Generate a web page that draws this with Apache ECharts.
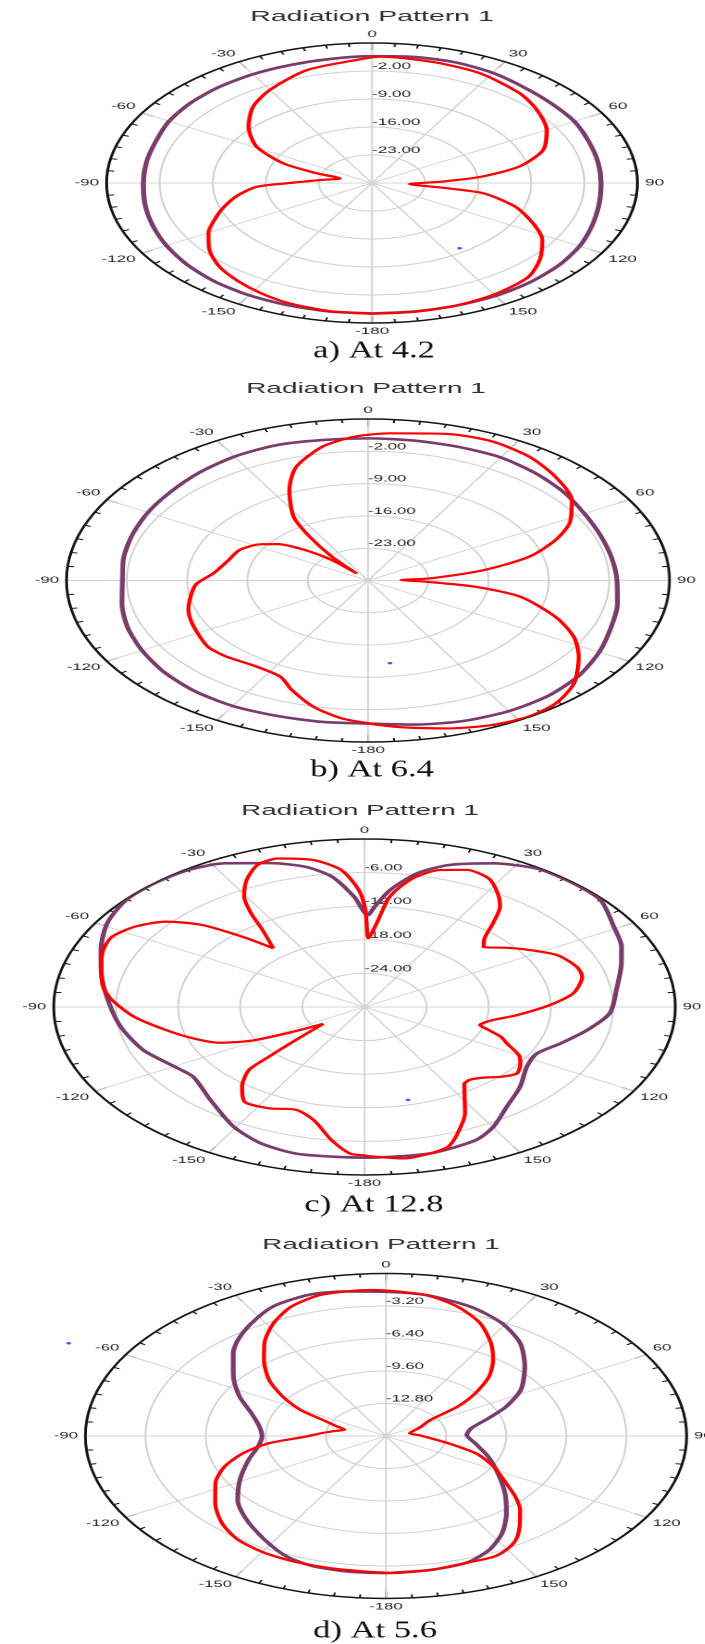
<!DOCTYPE html>
<html>
<head>
<meta charset="utf-8">
<script src="https://cdn.jsdelivr.net/npm/echarts/dist/echarts.min.js"></script>
<style>
html,body{margin:0;padding:0;background:#ffffff;width:705px;height:1644px;overflow:hidden;}
.panel{position:absolute;left:0;transform-origin:0 0;}
</style>
</head>
<body>
<div id="pa" class="panel"></div>
<div id="pb" class="panel"></div>
<div id="pc" class="panel"></div>
<div id="pd" class="panel"></div>
<script>
// ---------------- data (angle in degrees, value in dB) ----------------
const titleText = 'Radiation Pattern 1';
const captions = ['a) At 4.2', 'b) At 6.4', 'c) At 12.8', 'd) At 5.6'];

const angleTicks = [0, 30, 60, 90, 120, 150, 180, 210, 240, 270, 300, 330];
const angleTickLabels = ['0', '30', '60', '90', '120', '150', '-180', '-150', '-120', '-90', '-60', '-30'];

const aRadiusTicks = [-30, -23, -16, -9, -2, 5];
const aRadiusLabels = ['', '-23.00', '-16.00', '-9.00', '-2.00', ''];
const bRadiusTicks = [-30, -23, -16, -9, -2, 5];
const bRadiusLabels = ['', '-23.00', '-16.00', '-9.00', '-2.00', ''];
const cRadiusTicks = [-30, -24, -18, -12, -6, 0];
const cRadiusLabels = ['', '-24.00', '-18.00', '-12.00', '-6.00', ''];
const dRadiusTicks = [-16, -12.8, -9.6, -6.4, -3.2, 0];
const dRadiusLabels = ['', '-12.80', '-9.60', '-6.40', '-3.20', ''];

const aRed = [[-180,2.7],[-170,2.5],[-160,2.0],[-152,1.2],[-144,0.2],[-136,-1.0],[-128,-2.8],[-120,-5.1],[-113,-7.6],[-107,-9.6],[-100,-12.0],[-93.5,-14.8],[-90,-19.2],[-83,-23.5],[-75,-25.6],[-71.6,-22.3],[-67.2,-17.3],[-59.2,-12.3],[-49.2,-8.5],[-39.4,-5.3],[-30,-3.1],[-17,-0.5],[-4,0.8],[2,1.6],[15,1.3],[27.5,0.9],[41,-0.3],[50,-1.6],[60,-3.4],[70,-6.0],[78,-10.1],[84,-15.7],[88,-21.0],[93,-25.0],[97.5,-19.9],[100,-15.0],[107.4,-10.2],[115.4,-6.5],[122.4,-3.4],[131,-0.7],[139,1.3],[150,2.2],[160,2.6],[170,2.7],[180,2.7]];
const aPurple = [[-180,2.6],[-170,2.6],[-160,2.5],[-150,2.4],[-140,2.2],[-130,1.8],[-120,1.3],[-110,0.8],[-100,0.4],[-90,0.15],[-80,0.2],[-70,0.35],[-60,0.9],[-50,1.2],[-40,1.35],[-30,1.4],[-20,1.4],[-10,1.5],[0,1.7],[10,2.0],[20,2.1],[30,1.8],[40,1.2],[50,0.9],[60,0.8],[70,0.4],[80,0.25],[90,0.2],[100,0.4],[110,0.9],[120,1.6],[130,2.1],[140,2.4],[150,2.6],[160,2.6],[170,2.6],[180,2.6]];
const aDot = [[144.7,-10.0]];

const bRed = [[-180,0.9],[-174,0.0],[-167,-1.9],[-159.5,-4.7],[-154,-6.8],[-145,-7.3],[-135,-6.7],[-128,-6.5],[-122,-7.0],[-114,-7.6],[-107,-8.2],[-98,-9.3],[-92,-10.1],[-85,-12.0],[-75,-13.2],[-66,-13.7],[-58,-15.2],[-53,-16.9],[-48,-20.1],[-43.5,-23.9],[-41,-28.0],[-39,-23.3],[-35.5,-18.3],[-32,-13.7],[-25,-8.4],[-18.7,-4.0],[-10.3,-0.5],[-3,1.2],[4.6,2.0],[16.4,3.1],[25.8,3.4],[35,2.7],[44,1.3],[53.6,-0.6],[62,-3.5],[68,-6.5],[74.6,-10.6],[80.4,-16.3],[86.2,-22.7],[88.5,-26.1],[92.2,-23.3],[96.2,-17.5],[101.2,-12.0],[110,-6.8],[117,-3.2],[124,-0.5],[133,2.7],[140.6,4.4],[147.6,4.9],[155,4.5],[163.7,3.4],[172.6,2.1],[178,1.3],[180,0.9]];
const bPurple = [[-180,1.0],[-170,1.1],[-160,1.2],[-150,1.4],[-140,1.3],[-130,0.9],[-120,0.3],[-110,-0.3],[-100,-1.0],[-90,-1.5],[-80,-1.2],[-70,-0.9],[-60,-0.5],[-50,-0.1],[-40,0.5],[-30,1.0],[-20,1.2],[-10,0.9],[0,0.8],[10,0.8],[20,0.8],[30,0.8],[40,0.3],[50,-0.3],[60,-1.0],[70,-1.3],[80,-1.3],[90,-1.1],[100,-0.6],[110,0.0],[120,1.0],[130,2.0],[140,2.6],[150,2.7],[160,2.4],[170,1.7],[180,1.0]];
const bDot = [[171.9,-11.9]];

const cRed = [[-180,-3.5],[-176.9,-3.8],[-172.4,-6.0],[-166.4,-9.2],[-160.2,-10.5],[-153,-9.7],[-145.6,-9.5],[-140.3,-11.5],[-135.2,-14.2],[-133.9,-17.2],[-131.7,-21.1],[-127.1,-25.0],[-122.1,-21.2],[-118.8,-17.5],[-114.5,-14.6],[-108.6,-12.5],[-102.1,-10.4],[-94.5,-7.7],[-87.1,-5.6],[-81.8,-4.5],[-74.2,-3.6],[-68,-2.8],[-62.7,-2.6],[-57.1,-3.6],[-51.5,-5.5],[-47,-8.5],[-43.2,-12.8],[-40,-16.3],[-35.6,-13.1],[-33.2,-10.0],[-30.5,-7.1],[-26.6,-4.6],[-22.1,-2.6],[-17.5,-2.2],[-10.6,-3.3],[-5.3,-5.4],[-1.5,-9.1],[0.3,-12.7],[1.8,-17.7],[4.5,-15.0],[7.1,-10.1],[11.4,-6.6],[16.5,-4.5],[21.9,-3.6],[27.6,-4.1],[32.4,-6.0],[36.1,-7.8],[39.7,-10.6],[43.3,-13.1],[47.1,-14.3],[52,-12.8],[56.1,-11.5],[63.4,-9.25],[70.6,-8.3],[75.5,-8.3],[83.1,-9.7],[88.9,-12.1],[95.6,-15.2],[101,-17.5],[106.1,-18.4],[109,-17.3],[112,-15.8],[115.3,-14.8],[120,-12.8],[123.8,-11.9],[128.9,-11.1],[133.1,-11.8],[138,-13.0],[142,-13.5],[145,-13.2],[152.9,-8.7],[158.3,-5.7],[162,-3.8],[166.3,-3.1],[172.1,-2.7],[178.4,-3.3],[180,-3.5]];
const cPurple = [[-180,-3.1],[-175.1,-3.1],[-165.8,-3.0],[-157.5,-3.7],[-149.3,-5.2],[-138.2,-7.7],[-126.9,-9.3],[-120.2,-8.8],[-109.8,-7.3],[-98.5,-6.2],[-87.1,-5.2],[-76.7,-3.9],[-68.2,-2.6],[-58.9,-1.0],[-50.4,-0.1],[-42.8,0.0],[-34.8,-0.2],[-27.8,-1.0],[-19.7,-2.7],[-12.9,-4.3],[-7.7,-6.5],[-2.9,-10.3],[1.1,-13.6],[3.1,-12.1],[6.7,-9.0],[12,-5.6],[17.7,-3.4],[25.8,-1.5],[34.1,-0.2],[41.7,-0.1],[50.1,-0.3],[59.3,-2.0],[66.5,-2.95],[72.5,-4.0],[82.9,-5.5],[92.7,-6.3],[100.8,-8.1],[109,-10.0],[116.4,-11.4],[124.2,-11.05],[133.5,-9.3],[142.4,-7.5],[150,-5.2],[155.8,-3.9],[166.3,-3.1],[177.5,-3.1],[180,-3.1]];
const cDot = [[165.8,-12.9]];

const dRed = [[-180,-2.55],[-175.8,-2.6],[-167.5,-2.65],[-158.9,-2.7],[-150.8,-2.8],[-142.4,-3.1],[-134.6,-3.75],[-126.1,-4.75],[-117.1,-5.8],[-109.3,-6.9],[-102.6,-8.2],[-96.6,-9.7],[-90.9,-11.7],[-85,-12.6],[-80,-13.2],[-74,-13.7],[-70,-13.2],[-64.9,-12.3],[-60.7,-10.8],[-54.9,-9.3],[-48.5,-7.7],[-41,-6.1],[-35.3,-4.8],[-28.4,-3.4],[-21.6,-2.3],[-14.5,-1.7],[-7.7,-1.6],[-2.9,-1.6],[0.9,-1.7],[8.7,-1.96],[16.6,-2.7],[24.2,-3.8],[31.5,-5.3],[37.3,-6.6],[43.2,-8.0],[48.5,-9.65],[52.8,-11.2],[56.4,-13.2],[65,-14.0],[78,-14.7],[88,-14.2],[95.5,-13.6],[102.2,-12.6],[109.7,-10.9],[117.9,-9.5],[126,-8.1],[130.9,-6.9],[135.6,-5.8],[141.4,-4.6],[146,-3.65],[150.2,-3.1],[154.3,-2.8],[161.1,-2.8],[169.8,-2.6],[179.1,-2.5],[180,-2.55]];
const dPurple = [[-180,-2.5],[-171.8,-2.5],[-163.4,-2.6],[-156.1,-3.0],[-147.8,-3.9],[-138.1,-4.9],[-128.6,-5.9],[-119.1,-7.1],[-108,-8.3],[-98.8,-9.1],[-90.6,-9.4],[-82.2,-9.2],[-72.7,-8.5],[-63.6,-7.3],[-54.3,-6.0],[-45,-4.5],[-39.9,-3.7],[-32.9,-2.8],[-25.2,-1.9],[-16.4,-1.5],[-8.7,-1.6],[0,-1.8],[8.7,-1.96],[19.5,-2.5],[29.1,-3.3],[38,-4.4],[47.3,-5.95],[57.6,-7.5],[65.8,-9.0],[72.4,-10.3],[80.5,-11.4],[88.7,-11.7],[98.6,-11.2],[110.4,-10.2],[121.7,-9.0],[131.8,-7.5],[139.9,-6.05],[147.2,-4.6],[154,-3.5],[161.1,-2.8],[169.8,-2.6],[180,-2.5]];
const dDot = [[-61.6,3.2]];

// ---------------- layout (full-page pixel coordinates) ----------------
const layout = [
  {el:'pa', top:0,    h:368, sx:1.896, cx:372,   cy:183,   R:140,   tx:372, ty:17,   capX:374, capY:351},
  {el:'pb', top:368,  h:417, sx:1.867, cx:368,   cy:580.5, R:161.5, tx:366, ty:389,  capX:372, capY:770},
  {el:'pc', top:785,  h:435, sx:1.85,  cx:364.5, cy:1007,  R:168,   tx:360, ty:811,  capX:374, capY:1205},
  {el:'pd', top:1220, h:424, sx:1.85,  cx:386,   cy:1436,  R:162.5, tx:381, ty:1245, capX:375, capY:1631}
];
const panelData = [
  {red:aRed, purple:aPurple, dot:aDot, rt:aRadiusTicks, rl:aRadiusLabels},
  {red:bRed, purple:bPurple, dot:bDot, rt:bRadiusTicks, rl:bRadiusLabels},
  {red:cRed, purple:cPurple, dot:cDot, rt:cRadiusTicks, rl:cRadiusLabels},
  {red:dRed, purple:dPurple, dot:dDot, rt:dRadiusTicks, rl:dRadiusLabels}
];

const toPolar = arr => arr.map(([ang, val]) => [val, ang < 0 ? ang + 360 : ang]);
const CAPTION_STRETCH = 1.44;

layout.forEach((L, i) => {
  const D = panelData[i];
  const dom = document.getElementById(L.el);
  const w = 705 / L.sx;
  dom.style.top = L.top + 'px';
  dom.style.width = w + 'px';
  dom.style.height = L.h + 'px';
  dom.style.transform = 'scaleX(' + L.sx + ')';
  const chart = echarts.init(dom, null, {renderer: 'canvas', devicePixelRatio: 2});
  const rMin = D.rt[0], rMax = D.rt[D.rt.length - 1];
  const rStep = D.rt[1] - D.rt[0];
  chart.setOption({
    animation: false,
    backgroundColor: 'transparent',
    graphic: [
      {type: 'text', x: L.tx / L.sx, y: L.ty - L.top,
       style: {text: titleText, fontSize: 15, fontFamily: 'Liberation Sans, Arial, sans-serif', fill: '#2e2e2e', align: 'center', verticalAlign: 'middle'}},
      {type: 'text', x: L.capX / L.sx, y: L.capY - L.top, scaleX: CAPTION_STRETCH / L.sx,
       style: {text: captions[i], fontSize: 24, fontFamily: 'Liberation Serif, Times New Roman, serif', fill: '#111111', align: 'center', verticalAlign: 'middle'}}
    ],
    polar: {center: [L.cx / L.sx, L.cy - L.top], radius: L.R},
    angleAxis: {
      type: 'value', min: 0, max: 360, interval: 30, startAngle: 90, clockwise: true,
      axisLine: {show: true, lineStyle: {color: '#151515', width: 1.5}},
      axisTick: {show: true, inside: true, length: 7, lineStyle: {color: '#151515', width: 1}},
      minorTick: {show: true, splitNumber: 6, length: 3.5, lineStyle: {color: '#151515', width: 1}},
      axisLabel: {margin: 4, fontSize: 9, color: '#1e1e1e', fontFamily: 'Liberation Sans, Arial, sans-serif',
        formatter: v => { const k = angleTicks.indexOf(Math.round(v)); return k >= 0 ? angleTickLabels[k] : ''; }},
      splitLine: {show: true, lineStyle: {color: '#d4d4d4', width: 1}}
    },
    radiusAxis: {
      type: 'value', min: rMin, max: rMax, interval: rStep,
      axisLine: {show: false}, axisTick: {show: false},
      axisLabel: {margin: 0, fontSize: 9, color: '#1e1e1e', fontFamily: 'Liberation Sans, Arial, sans-serif',
        align: 'left', verticalAlign: 'bottom',
        formatter: v => { let best = 0; D.rt.forEach((t, k) => { if (Math.abs(t - v) < Math.abs(D.rt[best] - v)) best = k; }); return Math.abs(D.rt[best] - v) < 0.01 ? D.rl[best] : ''; }},
      splitLine: {show: true, lineStyle: {color: '#d0d0d0', width: 1}}
    },
    series: [
      {type: 'line', name: 'purple', coordinateSystem: 'polar', data: toPolar(D.purple), smooth: 0.25,
       showSymbol: false, lineStyle: {color: '#7a3d6b', width: 2.6}, z: 3},
      {type: 'line', name: 'red', coordinateSystem: 'polar', data: toPolar(D.red), smooth: 0.25,
       showSymbol: false, lineStyle: {color: '#ff0000', width: 2.2}, z: 4},
      {type: 'scatter', name: 'marker', coordinateSystem: 'polar', data: toPolar(D.dot), clip: false,
       symbolSize: 2.5, itemStyle: {color: '#2222ff'}, z: 5}
    ]
  });
});
</script>
</body>
</html>
